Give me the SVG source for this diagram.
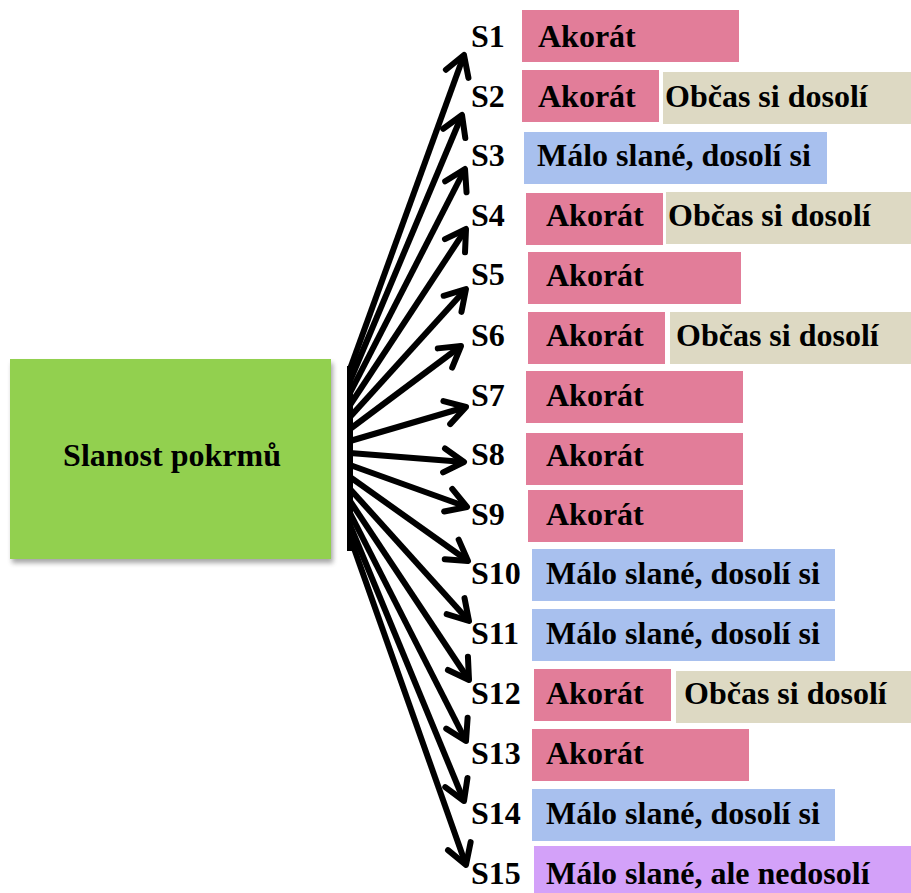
<svg xmlns="http://www.w3.org/2000/svg" width="911" height="893" viewBox="0 0 911 893">
  <style>
    text { font-family: 'Liberation Serif', 'DejaVu Serif', serif; font-weight: 700; font-size: 32px; fill: #000; }
    .pink { fill: #E27D99; }
    .beige { fill: #DDD9C3; }
    .blue { fill: #A8C0EE; }
    .purple { fill: #D3A1F9; }
    .root { fill: #92D050; }
    .conn { stroke: #000; stroke-width: 6; fill: none; marker-end: url(#arrow); }
  </style>
  <defs>
    <marker id="arrow" markerUnits="userSpaceOnUse" viewBox="-26 -16 30 32" markerWidth="30" markerHeight="32" refX="0" refY="0" orient="auto" overflow="visible">
      <path d="M-20,-12 L0,0 L-20,12" fill="none" stroke="#000" stroke-width="6" stroke-linejoin="round" stroke-linecap="round"/>
    </marker>
    <filter id="shadow" x="-10%" y="-10%" width="125%" height="130%">
      <feGaussianBlur in="SourceAlpha" stdDeviation="2.5"/>
      <feOffset dx="2" dy="4" result="b"/>
      <feComponentTransfer><feFuncA type="linear" slope="0.35"/></feComponentTransfer>
      <feMerge><feMergeNode/><feMergeNode in="SourceGraphic"/></feMerge>
    </filter>
  </defs>
  <rect width="911" height="893" fill="#fff"/>

  <!-- central node -->
  <g id="root">
    <rect class="root" x="10" y="359" width="321" height="200" filter="url(#shadow)"/>
    <text x="172" y="466" text-anchor="middle">Slanost pokrmů</text>
  </g>

  <!-- fan of arrows -->
  <g id="connectors">
    <line x1="350" y1="366" x2="350" y2="551" stroke="#000" stroke-width="6"/>
    <line class="conn" x1="350" y1="369" x2="464" y2="55"/>
    <line class="conn" x1="350" y1="381" x2="462" y2="115"/>
    <line class="conn" x1="350" y1="393" x2="465" y2="169"/>
    <line class="conn" x1="350" y1="405" x2="466" y2="229"/>
    <line class="conn" x1="350" y1="417" x2="466" y2="289"/>
    <line class="conn" x1="350" y1="429" x2="461" y2="346"/>
    <line class="conn" x1="350" y1="441" x2="466" y2="407"/>
    <line class="conn" x1="350" y1="453" x2="464" y2="462"/>
    <line class="conn" x1="350" y1="465" x2="467" y2="507"/>
    <line class="conn" x1="350" y1="477" x2="468" y2="561"/>
    <line class="conn" x1="350" y1="489" x2="469" y2="621"/>
    <line class="conn" x1="350" y1="501" x2="469" y2="680"/>
    <line class="conn" x1="350" y1="513" x2="466" y2="741"/>
    <line class="conn" x1="350" y1="525" x2="464" y2="801"/>
    <line class="conn" x1="350" y1="537" x2="466" y2="865"/>
  </g>

  <!-- respondent rows -->
  <g id="s1">
    <text x="471" y="47">S1</text>
    <rect class="pink" x="522" y="10" width="217" height="52"/>
    <text x="538" y="47">Akorát</text>
  </g>
  <g id="s2">
    <text x="471" y="107">S2</text>
    <rect class="pink" x="522" y="70" width="137" height="52"/>
    <text x="538" y="107">Akorát</text>
    <rect class="beige" x="663" y="72" width="248" height="52"/>
    <text x="665" y="107">Občas si dosolí</text>
  </g>
  <g id="s3">
    <text x="471" y="166">S3</text>
    <rect class="blue" x="524" y="132" width="303" height="52"/>
    <text x="537" y="166">Málo slané, dosolí si</text>
  </g>
  <g id="s4">
    <text x="471" y="226">S4</text>
    <rect class="pink" x="526" y="193" width="137" height="52"/>
    <text x="546" y="226">Akorát</text>
    <rect class="beige" x="666" y="192" width="245" height="52"/>
    <text x="668" y="226">Občas si dosolí</text>
  </g>
  <g id="s5">
    <text x="471" y="285">S5</text>
    <rect class="pink" x="528" y="252" width="213" height="52"/>
    <text x="546" y="286">Akorát</text>
  </g>
  <g id="s6">
    <text x="471" y="346">S6</text>
    <rect class="pink" x="528" y="312" width="137" height="52"/>
    <text x="546" y="346">Akorát</text>
    <rect class="beige" x="670" y="312" width="241" height="52"/>
    <text x="676" y="346">Občas si dosolí</text>
  </g>
  <g id="s7">
    <text x="471" y="406">S7</text>
    <rect class="pink" x="526" y="371" width="217" height="52"/>
    <text x="546" y="406">Akorát</text>
  </g>
  <g id="s8">
    <text x="471" y="465">S8</text>
    <rect class="pink" x="526" y="433" width="217" height="52"/>
    <text x="546" y="466">Akorát</text>
  </g>
  <g id="s9">
    <text x="471" y="525">S9</text>
    <rect class="pink" x="528" y="490" width="215" height="52"/>
    <text x="546" y="525">Akorát</text>
  </g>
  <g id="s10">
    <text x="471" y="584">S10</text>
    <rect class="blue" x="532" y="549" width="303" height="52"/>
    <text x="546" y="584">Málo slané, dosolí si</text>
  </g>
  <g id="s11">
    <text x="471" y="644">S11</text>
    <rect class="blue" x="532" y="609" width="303" height="52"/>
    <text x="546" y="644">Málo slané, dosolí si</text>
  </g>
  <g id="s12">
    <text x="471" y="704">S12</text>
    <rect class="pink" x="534" y="669" width="137" height="52"/>
    <text x="546" y="704">Akorát</text>
    <rect class="beige" x="676" y="671" width="235" height="52"/>
    <text x="684" y="704">Občas si dosolí</text>
  </g>
  <g id="s13">
    <text x="471" y="764">S13</text>
    <rect class="pink" x="532" y="729" width="217" height="52"/>
    <text x="546" y="764">Akorát</text>
  </g>
  <g id="s14">
    <text x="471" y="824">S14</text>
    <rect class="blue" x="532" y="789" width="303" height="52"/>
    <text x="546" y="824">Málo slané, dosolí si</text>
  </g>
  <g id="s15">
    <text x="471" y="884">S15</text>
    <rect class="purple" x="534" y="846" width="377" height="52"/>
    <text x="546" y="884">Málo slané, ale nedosolí</text>
  </g>
</svg>
